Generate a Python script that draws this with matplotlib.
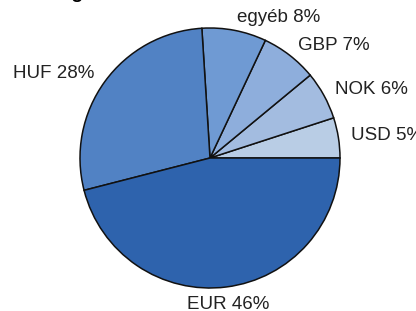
import numpy as np
import matplotlib.pyplot as plt

plt.rcParams['font.family'] = ['Liberation Sans', 'DejaVu Sans']

# devizanem szerinti megoszlás (%), az óramutatóval ellentétesen 0°-tól
labels = ['USD', 'NOK', 'GBP', 'egyéb', 'HUF', 'EUR']
shares = [5, 6, 7, 8, 28, 46]
colors = ['#b9cde5', '#a3bce0', '#8eaedc', '#6f9ad3', '#5182c4', '#2e63ad']

W, H = 416, 311
fig = plt.figure(figsize=(W / 100, H / 100), dpi=100)

# pie centre ~ (210, 158) px, radius ~ 130 px
cx, cy, r = 210, 158, 130
ax = fig.add_axes([(cx - r) / W, (H - cy - r) / H, 2 * r / W, 2 * r / H])

wedges, texts = ax.pie(
    shares,
    colors=colors,
    startangle=0,
    counterclock=True,
    labels=[f'{l} {s}%' for l, s in zip(labels, shares)],
    labeldistance=1.1,
    wedgeprops=dict(edgecolor='#111111', linewidth=1.1),
    textprops=dict(fontsize=13.5, color='#222222'),
)
for t in texts:
    x, y = t.get_position()
    if abs(x) < 0.15:
        # bottom label sits centred, a bit further out
        t.set_ha('center')
        t.set_position((x * 1.03, y * 1.03))
ax.set_xlim(-1, 1)
ax.set_ylim(-1, 1)
ax.set_aspect('auto')

# title is cut off at the top of the picture
fig.text(14 / W, 1 + 1.5 / H, 'Összegében', fontsize=14, fontweight='bold',
         ha='left', va='baseline')

fig.savefig('out.png', dpi=100)
